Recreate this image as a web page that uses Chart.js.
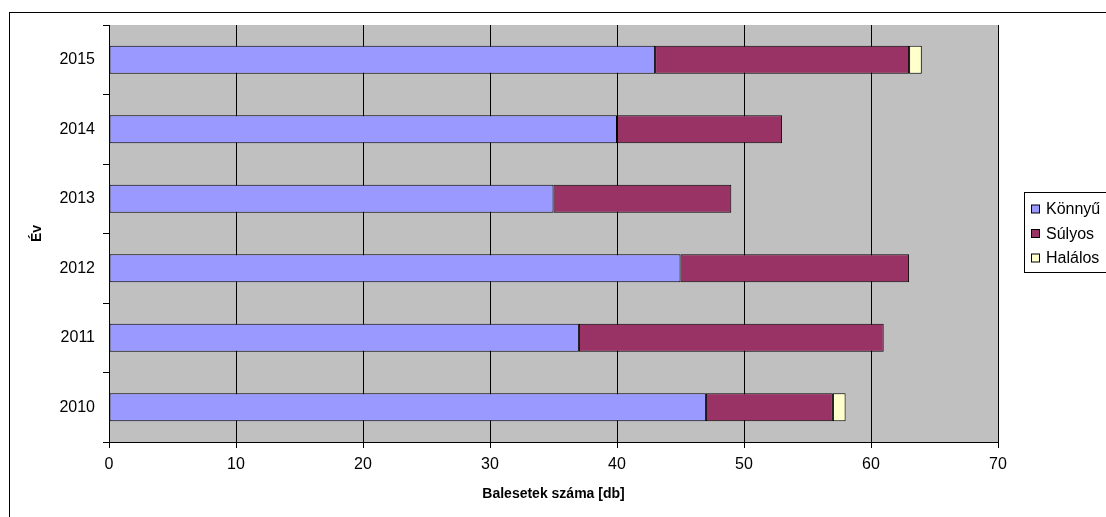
<!DOCTYPE html>
<html>
<head>
<meta charset="utf-8">
<script src="https://cdn.jsdelivr.net/npm/chart.js@4/dist/chart.umd.min.js"></script>
<style>
  html, body { margin: 0; padding: 0; background: #fff; }
  #wrap { width: 1106px; height: 517px; position: relative; }
</style>
</head>
<body>
<div id="wrap"><canvas id="chart"></canvas></div>
<script>
const years = ['2010', '2011', '2012', '2013', '2014', '2015']
const konnyu = [47, 37, 45, 35, 40, 43]
const sulyos = [10, 24, 18, 14, 13, 20]
const halalos = [1, null, null, null, null, 1]
const xTicks = [0, 10, 20, 30, 40, 50, 60, 70]

const FONT = 'Arial, "Liberation Sans", sans-serif'

// gray plot area + outer frame
const backdrop = {
    id: 'backdrop',
    beforeDraw(chart) {
        const ctx = chart.ctx
        const a = chart.chartArea
        ctx.save()
        ctx.fillStyle = '#c0c0c0'
        ctx.fillRect(a.left, a.top, a.right - a.left, a.bottom - a.top)
        ctx.strokeStyle = '#000'
        ctx.lineWidth = 1
        ctx.strokeRect(9.5, 12.5, 1300, 700)
        ctx.restore()
    }
}

// legend box on the right, like the old excel one
const sideLegend = {
    id: 'sideLegend',
    afterDraw(chart) {
        const ctx = chart.ctx
        const sets = chart.data.datasets
        ctx.save()
        ctx.strokeStyle = '#000'
        ctx.lineWidth = 1
        ctx.fillStyle = '#fff'
        ctx.fillRect(1024.5, 192.5, 200, 80)
        ctx.strokeRect(1024.5, 192.5, 200, 80)
        ctx.font = '16px ' + FONT
        ctx.textBaseline = 'middle'
        sets.forEach((ds, i) => {
            const y = 209 + i * 24.5
            ctx.fillStyle = ds.backgroundColor
            ctx.fillRect(1031.5, y - 4, 8, 8)
            ctx.strokeRect(1031.5, y - 4, 8, 8)
            ctx.fillStyle = '#000'
            ctx.fillText(ds.label, 1046, y + 1)
        })
        ctx.restore()
    }
}

new Chart(document.getElementById('chart'), {
    type: 'bar',
    data: {
        labels: years,
        datasets: [
            { label: 'Könnyű', data: konnyu, backgroundColor: '#9999ff' },
            { label: 'Súlyos', data: sulyos, backgroundColor: '#993366' },
            { label: 'Halálos', data: halalos, backgroundColor: '#ffffcc' }
        ]
    },
    options: {
        indexAxis: 'y',
        responsive: true,
        maintainAspectRatio: false,
        animation: false,
        layout: { padding: { left: 0, top: 25, right: 108, bottom: 0 } },
        datasets: {
            bar: {
                borderColor: '#000',
                borderWidth: 1,
                borderSkipped: false,
                categoryPercentage: 0.4,
                barPercentage: 1
            }
        },
        plugins: {
            legend: { display: false },
            tooltip: { enabled: false }
        },
        scales: {
            x: {
                stacked: true,
                min: 0,
                max: 70,
                afterBuildTicks(scale) {
                    scale.ticks = xTicks.map(v => ({ value: v }))
                },
                afterFit(scale) { scale.height = 75 },
                grid: { color: '#000', lineWidth: 1, tickLength: 6, drawOnChartArea: true },
                border: { color: '#000' },
                ticks: { color: '#000', font: { family: FONT, size: 16 }, padding: 7, maxRotation: 0 },
                title: {
                    display: true,
                    text: 'Balesetek száma [db]',
                    color: '#000',
                    font: { family: FONT, size: 14, weight: 'bold' },
                    padding: { top: 0, bottom: 14 }
                }
            },
            y: {
                stacked: true,
                reverse: true,
                afterFit(scale) { scale.width = 109 },
                grid: { color: '#000', drawOnChartArea: false, tickLength: 6, offset: true },
                border: { color: '#000' },
                ticks: { color: '#000', font: { family: FONT, size: 16 }, padding: 8 },
                title: {
                    display: true,
                    text: 'Év',
                    color: '#000',
                    font: { family: FONT, size: 14, weight: 'bold' },
                    padding: { top: 29, bottom: 0 }
                }
            }
        }
    },
    plugins: [backdrop, sideLegend]
})
</script>
</body>
</html>
